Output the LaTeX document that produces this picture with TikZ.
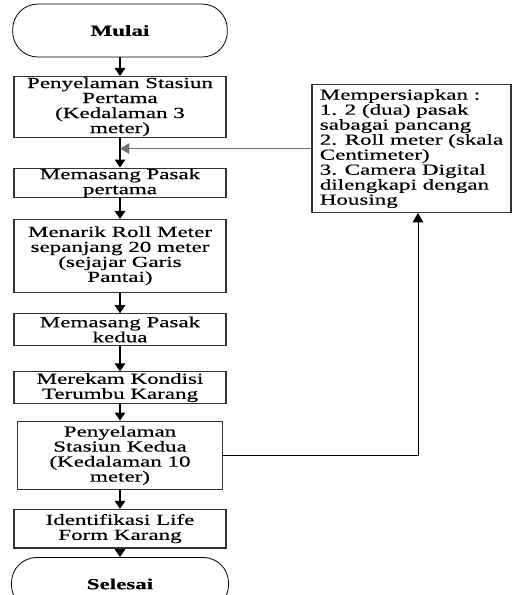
\documentclass[tikz,border=0pt]{standalone}
\usepackage{fontspec}
\setmainfont[FakeStretch=1.5,FakeBold=0.4]{Liberation Serif}
\usetikzlibrary{positioning,arrows.meta,calc}
\tikzstyle{arrow} = [line width=0.9pt,-{Triangle[width=8pt,length=6pt]}]
\tikzstyle{line} = [line width=0.6pt]

\begin{document}
\begin{tikzpicture}
\tikzset{%
	terminal/.style = { rectangle, rounded corners=19pt, draw=black, line width=0.6pt, minimum width=161pt, minimum height=39.75pt, font=\fontsize{11.5}{11.25}\selectfont\bfseries, text centered},
	process/.style = { rectangle, draw=black!80, line width=0.8pt, minimum width=159pt, inner xsep=2pt, inner ysep=0pt, align=center, font=\fontsize{11.5}{11.25}\selectfont},
	note/.style = { rectangle, draw=black!80, line width=0.8pt, minimum width=149.25pt, minimum height=95.25pt, inner xsep=4pt, align=left, font=\fontsize{11.5}{11.25}\selectfont}
}
\useasboundingbox (0,0) rectangle (384pt,-446.25pt);

\node(Mulai)		[terminal] at (90pt,-22.9pt)
								{Mulai};
\node(Stasiun1)		[process, minimum height=45.5pt, below=13.9pt of Mulai.south]
								{Penyelaman Stasiun\\Pertama\\(Kedalaman 3\\meter)};
\node(Pasak1)		[process, minimum height=22.3pt, below=22.4pt of Stasiun1.south]
								{Memasang Pasak\\pertama};
\node(RollMeter)	[process, minimum height=54.5pt, below=15.4pt of Pasak1.south]
								{Menarik Roll Meter\\sepanjang 20 meter\\(sejajar Garis\\Pantai)};
\node(Pasak2)		[process, minimum height=23.7pt, below=15.4pt of RollMeter.south]
								{Memasang Pasak\\kedua};
\node(Rekam)		[process, minimum height=23.7pt, below=19.1pt of Pasak2.south]
								{Merekam Kondisi\\Terumbu Karang};
\node(Stasiun2)		[process, minimum width=153.75pt, minimum height=51.5pt, below=12.4pt of Rekam.south]
								{Penyelaman\\Stasiun Kedua\\(Kedalaman 10\\meter)};
\node(LifeForm)		[process, minimum height=29pt, below=13.9pt of Stasiun2.south]
								{Identifikasi Life\\Form Karang};
\node(Selesai)		[terminal, minimum width=162.75pt, below=6.4pt of LifeForm.south]
								{Selesai};

\node(Persiapan)	[note] at (308.6pt,-111.4pt)
								{Mempersiapkan :\\1. 2 (dua) pasak\\sabagai pancang\\2. Roll meter (skala\\Centimeter)\\3. Camera Digital\\dilengkapi dengan\\Housing};

\draw [arrow]	(Mulai) -- (Stasiun1);
\draw [arrow]	(Stasiun1) -- (Pasak1);
\draw [arrow]	(Pasak1) -- (RollMeter);
\draw [arrow]	(RollMeter) -- (Pasak2);
\draw [arrow]	(Pasak2) -- (Rekam);
\draw [arrow]	(Rekam) -- (Stasiun2);
\draw [arrow]	(Stasiun2) -- (LifeForm);
\draw [arrow]	(LifeForm) -- (Selesai);

\draw [line, black!55, -{Triangle[width=8pt,length=7pt]}]
						(Persiapan.west) -- (Persiapan.west -| Stasiun1.south);
\draw [line, -{Triangle[width=8pt,length=7pt]}]
						(Stasiun2.east) -| ([xshift=4.9pt]Persiapan.south);

\end{tikzpicture}
\end{document}
